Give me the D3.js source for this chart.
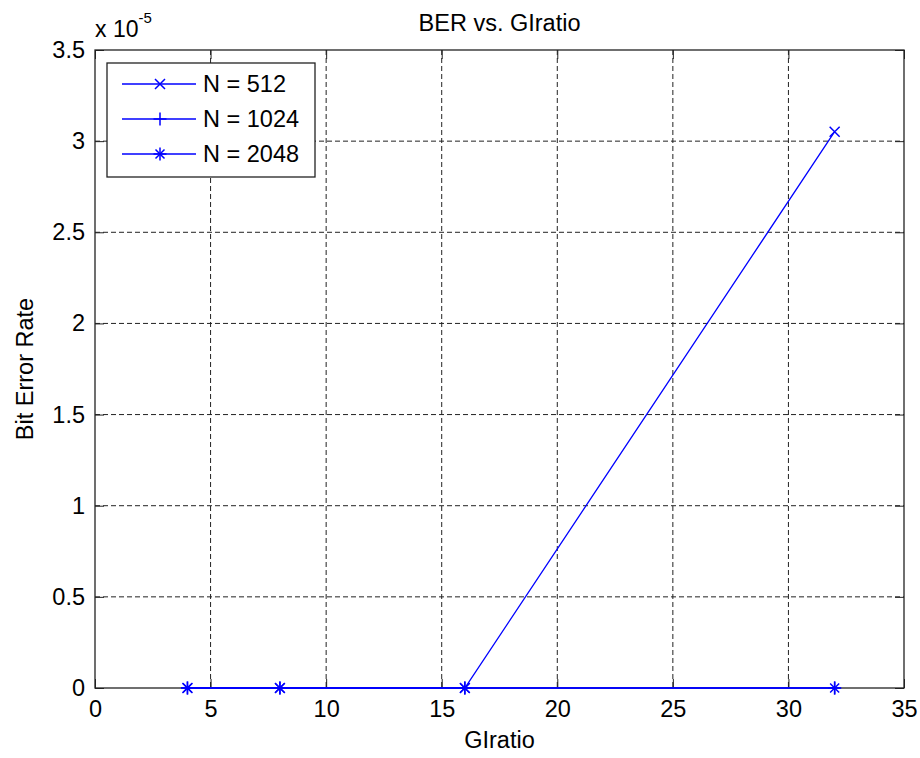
<!DOCTYPE html>
<html>
<head>
<meta charset="utf-8">
<script src="https://cdn.jsdelivr.net/npm/d3@7"></script>
<style>
	body { margin: 0; background: #fff; }
	text { font-family: "Liberation Sans", Arial, sans-serif; fill: #000; }
</style>
</head>
<body>
<div id="chart"></div>
<script>
// data
const glratio = [4, 8, 16, 32];
const ber512 = [0, 0, 0, 3.0518e-5];
const ber1024 = [0, 0, 0, 0];
const ber2048 = [0, 0, 0, 0];
const seriesNames = ['N = 512', 'N = 1024', 'N = 2048'];
const seriesMarkers = ['x', 'plus', 'star'];
const xTicks = [0, 5, 10, 15, 20, 25, 30, 35];
const yTicks = [0, 0.5e-5, 1e-5, 1.5e-5, 2e-5, 2.5e-5, 3e-5, 3.5e-5];

const width = 920, height = 758;
const margin = { top: 50, right: 16, bottom: 70, left: 95 };
const innerW = width - margin.left - margin.right;
const innerH = height - margin.top - margin.bottom;
const blue = '#0000ff';
const fontSize = 23.5;

const svg = d3.select('#chart')
	.append('svg')
	.attr('width', width)
	.attr('height', height);

const g = svg.append('g')
	.attr('transform', `translate(${margin.left}, ${margin.top})`);

const x = d3.scaleLinear().domain([0, 35]).range([0, innerW]);
const y = d3.scaleLinear().domain([0, 3.5e-5]).range([innerH, 0]);

// grid
g.append('g').selectAll('line')
	.data(xTicks.slice(1, -1))
	.enter().append('line')
	.attr('x1', (d) => x(d)).attr('x2', (d) => x(d))
	.attr('y1', 0).attr('y2', innerH)
	.attr('stroke', '#222').attr('stroke-dasharray', '5,3');

g.append('g').selectAll('line')
	.data(yTicks.slice(1, -1))
	.enter().append('line')
	.attr('x1', 0).attr('x2', innerW)
	.attr('y1', (d) => y(d)).attr('y2', (d) => y(d))
	.attr('stroke', '#222').attr('stroke-dasharray', '5,3');

// axes (ticks inside, MATLAB style)
const tickLen = 9;
const fmtY = (d) => d3.format('~g')(+(d / 1e-5).toFixed(2));

g.append('g')
	.attr('transform', `translate(0, ${innerH})`)
	.call(d3.axisBottom(x).tickValues(xTicks).tickSizeInner(-tickLen).tickSizeOuter(0).tickPadding(12))
	.call((a) => a.select('.domain').remove());

g.append('g')
	.call(d3.axisTop(x).tickValues(xTicks).tickSizeInner(-tickLen).tickSizeOuter(0).tickFormat(''))
	.call((a) => a.select('.domain').remove());

g.append('g')
	.call(d3.axisLeft(y).tickValues(yTicks).tickSizeInner(-tickLen).tickSizeOuter(0).tickPadding(10).tickFormat(fmtY))
	.call((a) => a.select('.domain').remove());

g.append('g')
	.attr('transform', `translate(${innerW}, 0)`)
	.call(d3.axisRight(y).tickValues(yTicks).tickSizeInner(-tickLen).tickSizeOuter(0).tickFormat(''))
	.call((a) => a.select('.domain').remove());

g.selectAll('.tick line').attr('stroke', '#222');
g.selectAll('.tick text')
	.attr('font-size', fontSize)
	.attr('font-family', '"Liberation Sans", Arial, sans-serif')
	.attr('fill', '#000');

g.append('rect')
	.attr('width', innerW).attr('height', innerH)
	.attr('fill', 'none').attr('stroke', '#222').attr('stroke-width', 1.3);

// series
const series = [ber512, ber1024, ber2048].map((vals, i) => ({
	name: seriesNames[i],
	marker: seriesMarkers[i],
	points: vals.map((v, j) => [glratio[j], v])
}));

const line = d3.line().x((d) => x(d[0])).y((d) => y(d[1]));

function drawMarker(sel, type) {
	const s = type === 'x' ? 5 : 6.5;
	if (type === 'x' || type === 'star') {
		const d = type === 'x' ? s : 4.5;
		sel.append('path').attr('d', `M${-d},${-d}L${d},${d}M${-d},${d}L${d},${-d}`);
	}
	if (type === 'plus' || type === 'star') {
		sel.append('path').attr('d', `M${-s},0L${s},0M0,${-s}L0,${s}`);
	}
	sel.selectAll('path').attr('stroke', blue).attr('stroke-width', 1.5).attr('fill', 'none');
}

series.forEach((s) => {
	g.append('path')
		.datum(s.points)
		.attr('d', line)
		.attr('fill', 'none')
		.attr('stroke', blue)
		.attr('stroke-width', 1.3);

	g.append('g').selectAll('g')
		.data(s.points)
		.enter().append('g')
		.attr('transform', (d) => `translate(${x(d[0])}, ${y(d[1])})`)
		.each(function () { drawMarker(d3.select(this), s.marker); });
});

// legend
const legend = g.append('g').attr('transform', 'translate(12, 13)');
legend.append('rect')
	.attr('width', 208).attr('height', 114)
	.attr('fill', '#fff').attr('stroke', '#222').attr('stroke-width', 1.3);

series.forEach((s, i) => {
	const row = legend.append('g').attr('transform', `translate(0, ${21 + i * 35})`);
	row.append('line')
		.attr('x1', 15).attr('x2', 89)
		.attr('stroke', blue).attr('stroke-width', 1.3);
	drawMarker(row.append('g').attr('transform', 'translate(53, 0)'), s.marker);
	row.append('text')
		.attr('x', 96).attr('dy', '0.36em')
		.attr('font-size', fontSize)
		.text(s.name);
});

// titles
svg.append('text')
	.attr('x', margin.left + innerW / 2).attr('y', 31)
	.attr('text-anchor', 'middle').attr('font-size', fontSize)
	.text('BER vs. GIratio');

svg.append('text')
	.attr('x', margin.left + innerW / 2).attr('y', 748)
	.attr('text-anchor', 'middle').attr('font-size', fontSize)
	.text('GIratio');

svg.append('text')
	.attr('transform', `translate(33, ${margin.top + innerH / 2}) rotate(-90)`)
	.attr('text-anchor', 'middle').attr('font-size', fontSize)
	.text('Bit Error Rate');

const exp = svg.append('text').attr('x', 95).attr('y', 37).attr('font-size', 23);
exp.append('tspan').text('x 10');
exp.append('tspan').attr('font-size', 15).attr('dy', -14).text('-5');
</script>
</body>
</html>
